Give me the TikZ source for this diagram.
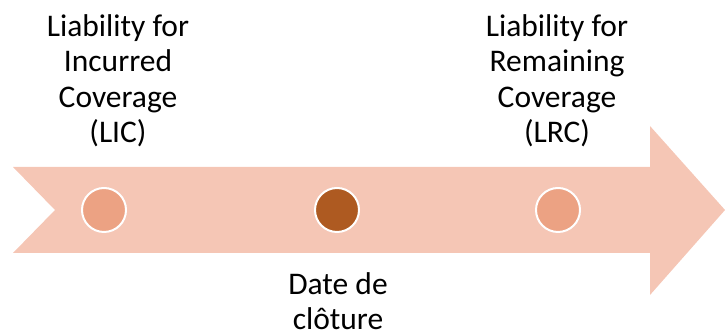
\documentclass[tikz,border=0pt]{standalone}
\usepackage{fontspec}
\setmainfont{Carlito}
\usepackage{tikz}
\usetikzlibrary{positioning}
\definecolor{Peach}{HTML}{F5C6B5}
\definecolor{Salmon}{HTML}{ECA283}
\definecolor{Rust}{HTML}{AE5A21}

\begin{document}
\begin{tikzpicture}[x=1pt,y=1pt,
    dot/.style={circle,draw=white,line width=2pt,inner sep=0pt,minimum size=44pt},
    lbl/.style={align=center,inner sep=0pt,anchor=north,font=\fontsize{31.5}{35.5}\selectfont}]
      \useasboundingbox (0,0) rectangle (725,336);
      \fill[Peach] (13,169)--(650,169)--(650,210)--(725,126)--(650,41)--(650,83)--(13,83)--(55,126)--cycle;
      \node[dot,fill=Salmon] (lic) at (104,126){};
      \node[dot,fill=Rust] (close) at (337,126){};
      \node[dot,fill=Salmon] (lrc) at (558,126){};
      \node[lbl] (licText) at (118,322){Liability for\\Incurred\\Coverage\\(LIC)};
      \node[lbl] (lrcText) at (557,322){Liability for\\Remaining\\Coverage\\(LRC)};
      \node[lbl] (closeText) at (338,64){Date de\\clôture};
    \end{tikzpicture}
\end{document}
